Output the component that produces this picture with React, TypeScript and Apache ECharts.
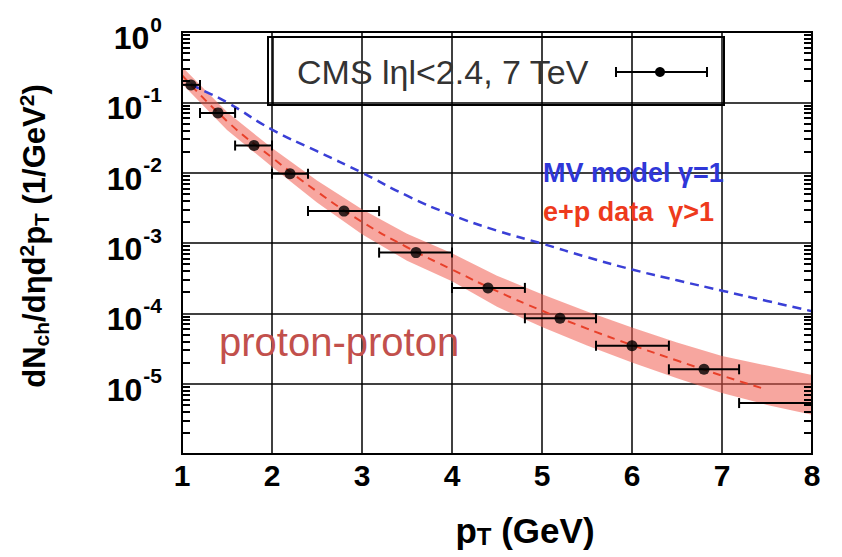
import React, { useEffect, useRef } from 'react';
import * as echarts from 'echarts';

// ---- axes ----
const xMin = 1;
const xMax = 8;
const yMin = 1e-6;
const yMax = 1;
const decadesMinor = [-6, -5, -4, -3, -2, -1];
const minorMultipliers = [2, 3, 4, 5, 6, 7, 8, 9];

// ---- CMS data points (|eta|<2.4, 7 TeV) ----
const ptX = [1.1, 1.4, 1.8, 2.2, 2.8, 3.6, 4.4, 5.2, 6.0, 6.8, 8.2];
const ptY = [0.177, 0.0708, 0.0243, 0.00964, 0.00284, 7.3e-4, 2.3e-4, 8.5e-5, 3.46e-5, 1.6e-5, 5.3e-6];
const ptXLo = [1.0, 1.2, 1.59, 2.0, 2.4, 3.19, 4.0, 4.81, 5.6, 6.41, 7.19];
const ptXHi = [1.2, 1.59, 2.0, 2.4, 3.19, 4.0, 4.81, 5.6, 6.41, 7.19, 9.2];

// ---- MV model gamma=1 (blue dashed) ----
const mvX = [1.1, 1.2, 1.5, 2.0, 2.5, 3.0, 3.5, 4.0, 4.5, 5.0, 5.5, 6.0, 6.5, 7.0, 7.5, 8.0];
const mvY = [0.18, 0.155, 0.1, 0.041, 0.0202, 0.0100, 0.0047, 0.0025, 0.0015, 0.00098, 0.00063, 0.00042, 0.000295, 0.00021, 0.00015, 0.000107];

// ---- e+p data gamma>1 (red dashed) ----
const fitX = [1.0, 1.5, 2.0, 2.5, 3.0, 3.5, 4.0, 4.5, 5.0, 5.5, 6.0, 6.5, 7.0, 7.45];
const fitY = [0.243, 0.0541, 0.0164, 0.0054, 0.002, 8.7e-4, 4.2e-4, 2.07e-4, 1.09e-4, 6.07e-5, 3.54e-5, 2.13e-5, 1.3e-5, 8.6e-6];

// ---- e+p band ----
const bandX = [1.0, 1.5, 2.0, 2.5, 3.0, 3.5, 4.0, 4.5, 5.0, 5.5, 6.0, 6.5, 7.0, 7.5, 8.0];
const bandHi = [0.321, 0.0726, 0.0224, 0.00774, 0.00301, 0.00135, 7.14e-4, 3.43e-4, 1.87e-4, 1.06e-4, 6.27e-5, 3.84e-5, 2.47e-5, 1.81e-5, 1.33e-5];
const bandLo = [0.184, 0.0404, 0.0121, 0.00378, 0.00133, 5.6e-4, 2.86e-4, 1.24e-4, 6.37e-5, 3.48e-5, 2.0e-5, 1.19e-5, 7.38e-6, 4.99e-6, 3.6e-6];

// ---- texts ----
const legendText = 'CMS lηl<2.4, 7 TeV';
const mvLabel = 'MV model γ=1';
const epLabel = 'e+p data  γ>1';
const systemLabel = 'proton-proton';

const FONT = '"Liberation Sans", Arial, Helvetica, sans-serif';

export default function App() {
  const ref = useRef<HTMLDivElement>(null);

  useEffect(() => {
    document.body.style.margin = '0';
    const chart = echarts.init(ref.current!, null, { renderer: 'svg' });

    const minorTicks: number[] = [];
    decadesMinor.forEach((d) => minorMultipliers.forEach((m) => minorTicks.push(m * Math.pow(10, d))));

    const minorTick = { show: true, inside: true, length: 8, customValues: minorTicks, lineStyle: { color: '#000', width: 2 } };

    const option: any = {
      animation: false,
      backgroundColor: '#fff',
      textStyle: { fontFamily: FONT },
      grid: {
        left: 182,
        right: 30,
        top: 32,
        bottom: 103,
        outerBoundsMode: 'none',
        containLabel: false,
        show: true,
        borderColor: '#000',
        borderWidth: 2,
        backgroundColor: 'transparent',
      },
      xAxis: {
        type: 'value',
        min: xMin,
        max: xMax,
        interval: 1,
        axisLine: { show: true, onZero: false, lineStyle: { color: '#000', width: 2 } },
        axisTick: { show: false },
        splitLine: { show: true, lineStyle: { color: '#000', width: 1.5 } },
        axisLabel: { fontSize: 30, fontWeight: 'bold', color: '#000', margin: 6, fontFamily: FONT },
        name: '{b|p}{t|T}{b| (GeV)}',
        nameLocation: 'middle',
        nameGap: 58,
        nameTextStyle: {
          padding: [0, 0, 0, 56],
          rich: {
            b: { fontSize: 35, fontWeight: 'bold', color: '#000', fontFamily: FONT },
            t: { fontSize: 24, fontWeight: 'bold', color: '#000', fontFamily: FONT, padding: [12, 0, 0, 0] },
          },
        },
      },
      yAxis: [
        {
          type: 'log',
          logBase: 10,
          min: yMin,
          max: yMax,
          splitNumber: 6,
          z: 8,
          axisLine: { show: true, lineStyle: { color: '#000', width: 2 } },
          axisTick: minorTick,
          splitLine: { show: false },
          axisLabel: {
            margin: 20,
            formatter: (v: number) => {
              const e = Math.round(Math.log10(v));
              if (e < -5) return '';
              return `{b|10}{s|${e}}`;
            },
            rich: {
              b: { fontSize: 32, fontWeight: 'bold', color: '#000', fontFamily: FONT, padding: [12, 0, 0, 0] },
              s: { fontSize: 21, fontWeight: 'bold', color: '#000', fontFamily: FONT, padding: [0, 0, 16, 1] },
            },
          },
          name: '{b|dN}{sb|ch}{b|/dηd}{sp|2}{b|p}{sb|T}{b| (1/GeV}{sp|2}{b|)}',
          nameLocation: 'middle',
          nameRotate: 90,
          nameGap: 130,
          nameTextStyle: {
            padding: [0, 0, 0, 14],
            rich: {
              b: { fontSize: 31, fontWeight: 'bold', color: '#000', fontFamily: FONT },
              sb: { fontSize: 21, fontWeight: 'bold', color: '#000', fontFamily: FONT, padding: [15, 0, 0, 0] },
              sp: { fontSize: 21, fontWeight: 'bold', color: '#000', fontFamily: FONT, padding: [0, 0, 15, 0] },
            },
          },
        },
        {
          type: 'log',
          logBase: 10,
          min: yMin,
          max: yMax,
          position: 'right',
          z: 8,
          axisLine: { show: true, lineStyle: { color: '#000', width: 2 } },
          axisTick: minorTick,
          splitLine: { show: false },
          axisLabel: { show: false },
        },
        {
          type: 'log',
          logBase: 10,
          min: yMin,
          max: yMax,
          splitNumber: 6,
          position: 'right',
          axisLine: { show: false },
          axisTick: { show: false },
          axisLabel: { show: false },
          splitLine: { show: true, lineStyle: { color: '#000', width: 1.5 } },
        },
      ],
      series: [
        {
          name: 'band',
          type: 'custom',
          silent: true,
          clip: true,
          z: 1,
          data: bandX.map((x, i) => [x, bandHi[i], bandLo[i]]),
          encode: { x: 0, y: [1, 2] },
          renderItem: (params: any, api: any) => {
            if (params.dataIndex !== 0) return null;
            const up = bandX.map((x, i) => api.coord([x, bandHi[i]]));
            const lo = bandX.map((x, i) => api.coord([x, bandLo[i]])).reverse();
            return {
              type: 'polygon',
              shape: { points: up.concat(lo) },
              style: { fill: 'rgba(240,92,80,0.55)', stroke: 'none' },
            };
          },
        },
        {
          name: 'MV model',
          type: 'line',
          smooth: true,
          showSymbol: false,
          z: 3,
          data: mvX.map((x, i) => [x, mvY[i]]),
          lineStyle: { color: '#3a3fd6', width: 2.5, type: [9, 6] },
        },
        {
          name: 'e+p data',
          type: 'line',
          smooth: true,
          showSymbol: false,
          z: 3,
          data: fitX.map((x, i) => [x, fitY[i]]),
          lineStyle: { color: '#e8402a', width: 2, type: [8, 6] },
        },
        {
          name: 'CMS errors',
          type: 'custom',
          z: 4,
          data: ptX.map((_, i) => [ptXLo[i], ptXHi[i], ptY[i]]),
          encode: { x: [0, 1], y: 2 },
          renderItem: (params: any, api: any) => {
            const a = api.coord([api.value(0), api.value(2)]);
            const b = api.coord([api.value(1), api.value(2)]);
            const cs = params.coordSys;
            const left = cs.x;
            const right = cs.x + cs.width;
            const x1 = Math.max(a[0], left);
            const x2 = Math.min(b[0], right);
            const y = a[1];
            const st = { stroke: '#000', lineWidth: 2 };
            const ch: any[] = [{ type: 'line', shape: { x1, y1: y, x2, y2: y }, style: st }];
            if (a[0] >= left - 0.5) ch.push({ type: 'line', shape: { x1: a[0], y1: y - 5, x2: a[0], y2: y + 5 }, style: st });
            if (b[0] <= right + 0.5) ch.push({ type: 'line', shape: { x1: b[0], y1: y - 5, x2: b[0], y2: y + 5 }, style: st });
            return { type: 'group', children: ch };
          },
        },
        {
          name: 'CMS',
          type: 'scatter',
          z: 5,
          clip: true,
          symbol: 'circle',
          symbolSize: 11,
          itemStyle: { color: '#000' },
          data: ptX.map((x, i) => [x, ptY[i]]),
        },
      ],
      graphic: [
        { type: 'rect', z: 10, shape: { x: 268, y: 37, width: 456, height: 68 }, style: { fill: 'none', stroke: '#000', lineWidth: 2 } },
        { type: 'line', z: 10, shape: { x1: 273, y1: 37, x2: 273, y2: 105 }, style: { stroke: '#000', lineWidth: 1.5 } },
        {
          type: 'text', z: 10, x: 297, y: 72,
          style: { text: legendText, fontSize: 34, fontFamily: FONT, fill: '#333', textVerticalAlign: 'middle', textAlign: 'left' },
        },
        { type: 'line', z: 10, shape: { x1: 616, y1: 72, x2: 707, y2: 72 }, style: { stroke: '#000', lineWidth: 2 } },
        { type: 'line', z: 10, shape: { x1: 616, y1: 67, x2: 616, y2: 77 }, style: { stroke: '#000', lineWidth: 2 } },
        { type: 'line', z: 10, shape: { x1: 707, y1: 67, x2: 707, y2: 77 }, style: { stroke: '#000', lineWidth: 2 } },
        { type: 'circle', z: 10, shape: { cx: 660, cy: 72, r: 5 }, style: { fill: '#000' } },
        {
          type: 'text', z: 10, x: 543, y: 173,
          style: { text: mvLabel, fontSize: 27, fontWeight: 'bold', fontFamily: FONT, fill: '#2f37d8', textVerticalAlign: 'middle', textAlign: 'left' },
        },
        {
          type: 'text', z: 10, x: 543, y: 212,
          style: { text: epLabel, fontSize: 27, fontWeight: 'bold', fontFamily: FONT, fill: '#ee3a1c', textVerticalAlign: 'middle', textAlign: 'left' },
        },
        {
          type: 'text', z: 10, x: 219, y: 342,
          style: { text: systemLabel, fontSize: 40, fontFamily: FONT, fill: '#c2504c', textVerticalAlign: 'middle', textAlign: 'left' },
        },
      ],
    };

    chart.setOption(option);
    return () => chart.dispose();
  }, []);

  return <div ref={ref} style={{ width: 842, height: 557 }} />;
}
